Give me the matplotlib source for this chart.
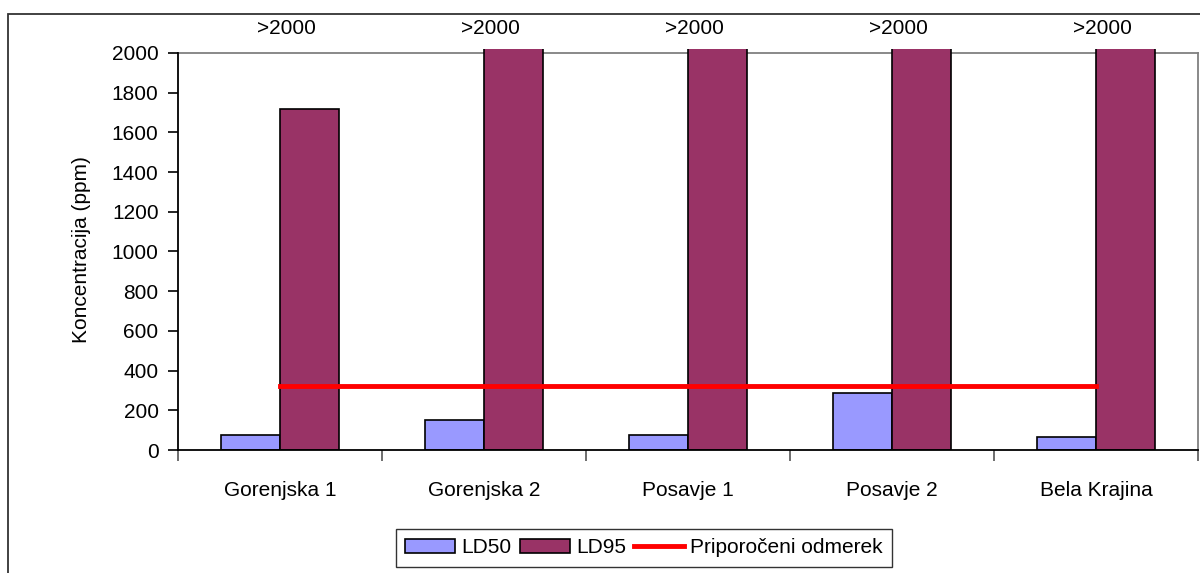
import matplotlib
matplotlib.use('Agg')
import matplotlib.pyplot as plt
from matplotlib.patches import Rectangle
import numpy as np

# data
regions = ["Gorenjska 1", "Gorenjska 2", "Posavje 1", "Posavje 2", "Bela Krajina"]
ld50 = [75, 150, 75, 285, 65]
ld95 = [1720, 2100, 2100, 2100, 2100]   # the >2000 bars run off the top of the chart
top_labels = [">2000", ">2000", ">2000", ">2000", ">2000"]
recommended = [320, 320, 320, 320, 320]

plt.rcParams['font.family'] = ['Liberation Sans', 'DejaVu Sans']
fs = 15

fig = plt.figure(figsize=(12, 5.73), dpi=100)
# axes top sits a few px above 2000 so the tall bars poke out like in excel
ax = fig.add_axes([178 / 1200, 1 - 450 / 573, 1020 / 1200, 401 / 573])

# outer chart frame (cut off at the right and bottom like the reference)
fig.patches.append(Rectangle((8 / 1200, -0.2), 1.2, 1 - 14 / 573 + 0.2,
                             transform=fig.transFigure, fill=False,
                             edgecolor="#333333", linewidth=1.3, zorder=0))

x = np.arange(len(regions))
w = 0.29
ax.bar(x - w / 2, ld50, w, color="#9999FF", edgecolor="black", linewidth=1.2,
       label="LD50", zorder=2)
ax.bar(x + w / 2, ld95, w, color="#993366", edgecolor="black", linewidth=1.2,
       label="LD95", zorder=2)
ax.plot(x, recommended, color="#FF0000", linewidth=3.5,
        label="Priporočeni odmerek", zorder=3)

# ">2000" notes above the bars
for i in range(len(regions)):
    ax.text(x[i] + 0.03, 2125, top_labels[i], ha="center", va="center",
            fontsize=fs, clip_on=False)

ax.set_xlim(-0.5, len(regions) - 0.5)
ax.set_ylim(0, 2020)
ax.set_yticks(range(0, 2001, 200))
ax.tick_params(axis="y", direction="out", length=7, width=1.2, pad=7, labelsize=fs)

ax.set_xticks(np.arange(-0.5, len(regions), 1.0))
ax.set_xticklabels([])
ax.set_xticks(x, minor=True)
ax.set_xticklabels(regions, minor=True)
ax.tick_params(axis="x", which="major", direction="out", length=8, width=1.2, color="#555555")
ax.tick_params(axis="x", which="minor", length=0, pad=22, labelsize=fs)

ax.set_ylabel("Koncentracija (ppm)", fontsize=fs)
ax.yaxis.set_label_coords(-0.085, 0.5)

ax.spines["top"].set_position(("data", 2000))
ax.spines["left"].set_bounds(0, 2000)
ax.spines["right"].set_bounds(0, 2000)
for s in ["left", "bottom"]:
    ax.spines[s].set_color("black")
    ax.spines[s].set_linewidth(1.3)
for s in ["top", "right"]:
    ax.spines[s].set_color("#808080")
    ax.spines[s].set_linewidth(1.3)
    ax.spines[s].set_zorder(1)

handles, labels = ax.get_legend_handles_labels()
order = [1, 2, 0]
leg = fig.legend([handles[k] for k in order], [labels[k] for k in order],
                 loc="upper center", bbox_to_anchor=(644 / 1200, 1 - 529 / 573),
                 ncol=3, fontsize=fs, frameon=True, fancybox=False,
                 edgecolor="black", handlelength=2.4, handleheight=0.7,
                 columnspacing=0.4, handletextpad=0.3, borderpad=0.45,
                 borderaxespad=0)
leg.get_frame().set_linewidth(1.0)

fig.savefig("out.png", dpi=100)
